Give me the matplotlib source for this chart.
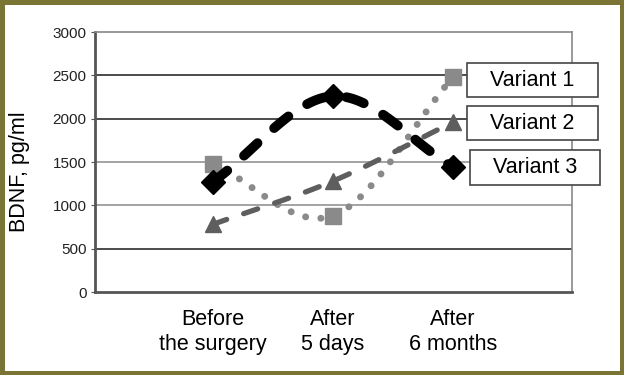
import numpy as np
import matplotlib
matplotlib.use("Agg")
import matplotlib.pyplot as plt
from matplotlib.patches import Rectangle

plt.rcParams['font.family'] = ['Liberation Sans', 'DejaVu Sans']

categories = ["Before\nthe surgery", "After\n5 days", "After\n6 months"]
variant1 = [1480, 880, 2480]
variant2 = [780, 1280, 1960]
variant3 = [1270, 2260, 1440]
series_names = ["Variant 1", "Variant 2", "Variant 3"]
y_ticks = [0, 500, 1000, 1500, 2000, 2500, 3000]


def smooth(xs, ys, n=60):
    # catmull-rom through the points, like a spreadsheet "smoothed line"
    xs = np.asarray(xs, float)
    ys = np.asarray(ys, float)
    px = np.concatenate([[2 * xs[0] - xs[1]], xs, [2 * xs[-1] - xs[-2]]])
    py = np.concatenate([[2 * ys[0] - ys[1]], ys, [2 * ys[-1] - ys[-2]]])
    out_x, out_y = [], []
    t = np.linspace(0, 1, n)
    for i in range(1, len(px) - 2):
        for p, o in ((px, out_x), (py, out_y)):
            p0, p1, p2, p3 = p[i - 1], p[i], p[i + 1], p[i + 2]
            o.extend(0.5 * (2 * p1 + (-p0 + p2) * t
                            + (2 * p0 - 5 * p1 + 4 * p2 - p3) * t ** 2
                            + (-p0 + 3 * p1 - 3 * p2 + p3) * t ** 3))
    return np.array(out_x), np.array(out_y)


fig = plt.figure(figsize=(6.24, 3.75), dpi=100, facecolor="white")
ax = fig.add_axes([95 / 624, 83 / 375, 477 / 624, 260 / 375])
ax.set_facecolor("white")

x = np.arange(len(categories))

# gridlines (two of them come out lighter in the original)
for v in y_ticks[1:-1]:
    c = "#8a8a8a" if v in (1000, 1500) else "#1a1a1a"
    ax.axhline(v, color=c, lw=1.1, zorder=1)

sx, sy = smooth(x, variant1)
ax.plot(sx, sy, color="#8a8a8a", lw=5, ls=(0, (0.01, 2.2)), dash_capstyle="round", zorder=3)
ax.plot(x, variant1, ls="none", marker="s", ms=12, color="#8a8a8a", zorder=4)

sx, sy = smooth(x, variant2)
ax.plot(sx, sy, color="#5e5e5e", lw=3.8, ls=(0, (2.8, 3.4)), dash_capstyle="round", zorder=3)
ax.plot(x, variant2, ls="none", marker="^", ms=12, color="#5e5e5e", zorder=4)

sx, sy = smooth(x, variant3)
ax.plot(sx, sy, color="black", lw=7, ls=(0, (1.9, 2.3)), dash_capstyle="round", zorder=5)
ax.plot(x, variant3, ls="none", marker="D", ms=12, color="black", zorder=6)

ax.set_xlim(-0.98, 2.99)
ax.set_ylim(0, 3000)
ax.set_yticks(y_ticks)
ax.set_yticklabels([str(v) for v in y_ticks], fontsize=11, color="#222222")
ax.set_xticks(x)
ax.set_xticklabels(categories, fontsize=15.5, linespacing=1.3)
ax.tick_params(axis="x", length=0, pad=12)
ax.tick_params(axis="y", length=3, color="#555555", pad=3)
for s in ax.spines.values():
    s.set_color("#888888")
    s.set_linewidth(1.2)
ax.spines["left"].set_linewidth(2)
ax.spines["bottom"].set_linewidth(2)
ax.spines["left"].set_color("#555555")
ax.spines["bottom"].set_color("#555555")

fig.text(20 / 624, 1 - 172 / 375, "BDNF, pg/ml", rotation=90, fontsize=15.5,
         ha="center", va="center")

# label boxes
boxes = [(467, 63, 131, 34), (467, 106, 131, 34), (470, 150, 130, 35)]
for name, (bx, by, bw, bh) in zip(series_names, boxes):
    fig.patches.append(Rectangle((bx / 624, 1 - (by + bh) / 375), bw / 624, bh / 375,
                                 transform=fig.transFigure, facecolor="white",
                                 edgecolor="#444444", lw=1.2, zorder=10))
    fig.text((bx + bw / 2) / 624, 1 - (by + bh / 2) / 375, name, fontsize=15.5,
             ha="center", va="center", zorder=11)

# outer frame
fig.patches.append(Rectangle((0.0035, 0.006), 0.993, 0.988, transform=fig.transFigure,
                             fill=False, edgecolor="#7a7535", lw=3.6, zorder=20))

fig.savefig("out.png", dpi=100, facecolor=fig.get_facecolor())
